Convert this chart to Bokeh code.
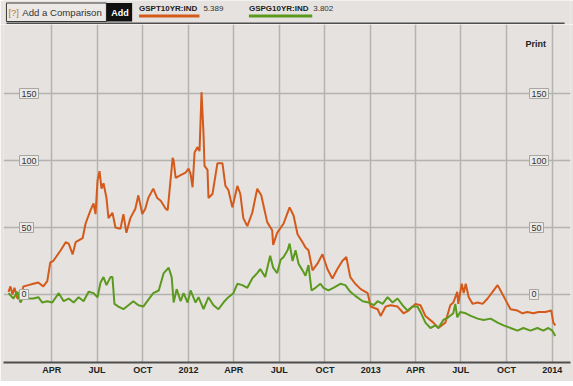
import pandas as pd
from bokeh.plotting import figure
from bokeh.layouts import column
from bokeh.models import Range1d, FixedTicker, Label, BoxAnnotation
from bokeh.embed import file_html
from bokeh.resources import INLINE

# ---------------- data ----------------
pt_dates = ["2011-01-04","2011-01-08","2011-01-12","2011-01-16","2011-01-22","2011-01-28","2011-02-03","2011-02-13","2011-02-23","2011-03-05",
            "2011-03-15","2011-03-23","2011-03-29","2011-04-04","2011-04-19","2011-04-29","2011-05-05","2011-05-13","2011-05-19","2011-06-02",
            "2011-06-08","2011-06-18","2011-06-24","2011-06-28","2011-07-02","2011-07-06","2011-07-10","2011-07-14","2011-07-20","2011-07-24",
            "2011-08-01","2011-08-07","2011-08-17","2011-08-23","2011-08-29","2011-09-06","2011-09-16","2011-09-22","2011-09-30","2011-10-06",
            "2011-10-12","2011-10-22","2011-10-30","2011-11-06","2011-11-16","2011-11-20","2011-11-30","2011-12-02","2011-12-06","2011-12-16",
            "2011-12-26","2012-01-01","2012-01-05","2012-01-09","2012-01-13","2012-01-19","2012-01-23","2012-01-27","2012-01-31","2012-02-02",
            "2012-02-08","2012-02-10","2012-02-18","2012-02-28","2012-03-09","2012-03-15","2012-03-21","2012-03-29","2012-04-08","2012-04-14",
            "2012-04-20","2012-04-28","2012-05-08","2012-05-18","2012-05-26","2012-06-07","2012-06-17","2012-06-19","2012-06-27","2012-07-10",
            "2012-07-14","2012-07-22","2012-07-30","2012-08-07","2012-08-17","2012-08-23","2012-08-29","2012-09-06","2012-09-16","2012-09-26",
            "2012-10-06","2012-10-16","2012-10-26","2012-11-05","2012-11-13","2012-11-21","2012-12-01","2012-12-12","2012-12-26","2013-01-01",
            "2013-01-15","2013-01-21","2013-01-31","2013-02-10","2013-02-24","2013-03-08","2013-03-18","2013-04-01","2013-04-11","2013-04-21",
            "2013-05-07","2013-05-17","2013-05-31","2013-06-10","2013-06-16","2013-06-24","2013-06-26","2013-07-03","2013-07-07","2013-07-11",
            "2013-07-17","2013-07-25","2013-08-04","2013-08-14","2013-08-24","2013-09-03","2013-09-13","2013-09-19","2013-09-29","2013-10-09",
            "2013-10-23","2013-11-02","2013-11-12","2013-11-24","2013-12-04","2013-12-18","2013-12-30","2014-01-03","2014-01-07"]
pt_values = [2, 6, 0, 5, -3, -2, 6, 7, 8, 9,
             6, 10, 24, 25, 33, 39, 38, 30, 39, 42,
             53, 63, 68, 60, 85, 92, 79, 83, 72, 57,
             61, 50, 49, 60, 46, 57, 64, 74, 60, 64,
             72, 79, 72, 70, 64, 63, 102, 100, 87, 89,
             91, 94, 90, 80, 106, 110, 107, 151, 120, 96,
             93, 72, 75, 98, 98, 81, 78, 65, 81, 75,
             57, 51, 61, 79, 74, 54, 48, 37, 46, 53,
             57, 65, 59, 45, 39, 35, 33, 18, 23, 30,
             19, 12, 19, 25, 28, 13, 8, 4, 1, -9,
             -11, -16, -9, -8, -9, -14, -12, -7, -8, -16,
             -21, -25, -21, -8, -6, 2, -7, 8, 1, 8,
             -2, -7, -6, -7, -3, 2, 7, 3, -4, -11,
             -12, -14, -13, -14, -13, -13, -12, -21, -23]

pg_dates = ["2011-01-04","2011-01-14","2011-01-22","2011-01-28","2011-02-03","2011-02-13","2011-02-23","2011-03-05","2011-03-13","2011-03-23",
            "2011-04-02","2011-04-15","2011-04-25","2011-05-05","2011-05-15","2011-05-25","2011-06-04","2011-06-14","2011-06-24","2011-07-02",
            "2011-07-08","2011-07-14","2011-07-20","2011-07-28","2011-08-01","2011-08-05","2011-08-13","2011-08-23","2011-09-02","2011-09-12",
            "2011-09-22","2011-10-02","2011-10-10","2011-10-22","2011-11-02","2011-11-12","2011-11-22","2011-11-28","2011-12-02","2011-12-08",
            "2011-12-16","2011-12-22","2011-12-30","2012-01-05","2012-01-15","2012-01-21","2012-01-31","2012-02-10","2012-02-20","2012-03-01",
            "2012-03-11","2012-03-21","2012-03-31","2012-04-08","2012-04-18","2012-04-28","2012-05-08","2012-05-18","2012-05-24","2012-06-03",
            "2012-06-13","2012-06-19","2012-06-27","2012-07-04","2012-07-10","2012-07-18","2012-07-22","2012-07-28","2012-08-03","2012-08-09",
            "2012-08-17","2012-08-23","2012-08-29","2012-09-04","2012-09-12","2012-09-22","2012-09-28","2012-10-08","2012-10-18","2012-11-01",
            "2012-11-11","2012-11-21","2012-12-01","2012-12-16","2012-12-28","2013-01-07","2013-01-15","2013-01-25","2013-02-04","2013-02-14",
            "2013-02-24","2013-03-06","2013-03-16","2013-03-26","2013-04-05","2013-04-11","2013-04-21","2013-05-01","2013-05-11","2013-05-17",
            "2013-05-27","2013-06-06","2013-06-16","2013-06-20","2013-06-24","2013-06-30","2013-07-11","2013-07-21","2013-08-04","2013-08-16",
            "2013-08-30","2013-09-13","2013-09-25","2013-10-09","2013-10-23","2013-11-04","2013-11-18","2013-12-02","2013-12-14","2013-12-24",
            "2014-01-01","2014-01-07"]
pg_values = [1, -3, 2, -6, -2, -3, -3, -2, -6, -5,
             -6, 1, -5, -3, -6, -2, -5, 2, 1, -2,
             9, 13, 7, 13, 13, -7, -9, -11, -8, -5,
             -8, -9, -5, 1, 3, 16, 20, 13, -6, 4,
             -5, 1, -6, 3, -6, -2, -11, -2, -8, -11,
             -6, -2, 1, 8, 7, 5, 12, 16, 19, 13,
             29, 20, 16, 26, 28, 33, 38, 25, 33, 23,
             18, 14, 22, 3, 5, 8, 5, 3, 5, 8,
             7, 2, -1, -5, -6, -8, -5, -7, -2, -6,
             -3, -8, -12, -9, -9, -13, -21, -25, -23, -25,
             -19, -17, -14, -7, -17, -13, -14, -16, -18, -19,
             -18, -21, -23, -25, -27, -25, -27, -25, -27, -25,
             -27, -31]

quarter_ticks = ["2011-04-01", "2011-07-01", "2011-10-01", "2012-01-01", "2012-04-01", "2012-07-01",
                 "2012-10-01", "2013-01-01", "2013-04-01", "2013-07-01", "2013-10-01", "2014-01-01"]
quarter_labels = ["APR", "JUL", "OCT", "2012", "APR", "JUL", "OCT", "2013", "APR", "JUL", "OCT", "2014"]
y_ticks = [0, 50, 100, 150]
series_names = ["GSPT10YR:IND", "GSPG10YR:IND"]
series_last = ["5.389", "3.802"]
series_colors = ["#d45a1c", "#5b9a1f"]

# ---------------- styling ----------------
BG = "#e5e2df"
GRID = "#b5b3b0"
DARK = "#4f4f4f"
FONT = "Liberation Sans"
W = 573


def plain_fig(h):
    f = figure(width=W, height=h, output_backend="svg", toolbar_location=None,
               x_range=Range1d(0, W), y_range=Range1d(h, 0),
               x_axis_location=None, y_axis_location=None,
               min_border=0, min_border_left=0, min_border_right=0,
               min_border_top=0, min_border_bottom=0,
               background_fill_color=BG, border_fill_color=BG, outline_line_color=None)
    f.xgrid.visible = False
    f.ygrid.visible = False
    return f


def box(f, l, r, t, b, fill, line=None):
    f.add_layout(BoxAnnotation(left=l, right=r, top=t, bottom=b, fill_color=fill,
                               fill_alpha=1, line_color=line, line_alpha=1 if line else 0))


def lab(f, x, y, text, size="10px", style="normal", color="#222222", align="left"):
    f.add_layout(Label(x=x, y=y, text=text, text_font=FONT, text_font_size=size,
                       text_font_style=style, text_color=color, text_align=align,
                       text_baseline="middle"))


# ---------------- header ----------------
head = plain_fig(24)
box(head, 3, 104, 2.5, 21, "#ebe8e5", "#3a3a3a")
box(head, 104, 130, 2.5, 21, "#111111")
lab(head, 5, 12, "[?]", "9.5px", "normal", "#c07a2c")
lab(head, 19, 12, "Add a Comparison", "9.6px", "normal", "#333333")
lab(head, 109, 12, "Add", "9px", "bold", "#ffffff")
lab(head, 137, 8, series_names[0], "8px", "bold", "#222222")
lab(head, 202, 8, series_last[0], "8px", "normal", "#333333")
box(head, 137, 198, 14, 17, series_colors[0])
lab(head, 248, 8, series_names[1], "8px", "bold", "#222222")
lab(head, 313, 8, series_last[1], "8px", "normal", "#333333")
box(head, 248, 312, 14, 17, series_colors[1])
box(head, 3, 567, 22, 24, DARK)

# ---------------- main chart ----------------
x_start = pd.Timestamp("2010-12-25")
x_end = pd.Timestamp("2014-02-06 14:00")

p = figure(width=W, height=357, x_axis_type="datetime", output_backend="svg",
           toolbar_location=None, x_range=Range1d(x_start, x_end),
           y_range=Range1d(-50.75, 201.5), y_axis_location=None,
           min_border_left=3, min_border_right=3, min_border_top=0, min_border_bottom=19,
           background_fill_color=BG, border_fill_color=BG, outline_line_color=None)
p.extra_x_ranges = {"px": Range1d(3, 570)}

tick_ms = [pd.Timestamp(d).value / 1e6 for d in quarter_ticks]
p.xaxis.ticker = FixedTicker(ticks=tick_ms)
p.xaxis.major_label_overrides = {t: lab_ for t, lab_ in zip(tick_ms, quarter_labels)}
p.xaxis.axis_line_color = DARK
p.xaxis.axis_line_width = 2
p.xaxis.major_tick_line_color = None
p.xaxis.minor_tick_line_color = None
p.xaxis.major_tick_out = 0
p.xaxis.major_tick_in = 0
p.xaxis.major_label_text_font = FONT
p.xaxis.major_label_text_font_size = "9px"
p.xaxis.major_label_text_font_style = "bold"
p.xaxis.major_label_text_color = "#222222"
p.xaxis.major_label_standoff = 2

p.xgrid.ticker = FixedTicker(ticks=tick_ms)
p.ygrid.ticker = FixedTicker(ticks=y_ticks)
for g in (p.xgrid, p.ygrid):
    g.grid_line_color = GRID
    g.grid_line_width = 1.5

p.line(pd.to_datetime(pt_dates), pt_values, line_color=series_colors[0], line_width=2)
p.line(pd.to_datetime(pg_dates), pg_values, line_color=series_colors[1], line_width=2)

for v in y_ticks:
    for xpos in (19, 529):
        p.add_layout(Label(x=xpos, y=v, x_range_name="px", text=str(v), text_font=FONT,
                           text_font_size="9px", text_color="#333333", text_align="left",
                           text_baseline="middle", background_fill_color="#eceae7",
                           border_line_color="#a8a6a3", padding=2))

p.add_layout(Label(x=525, y=187, x_range_name="px", text="Print", text_font=FONT,
                   text_font_size="9px", text_font_style="bold", text_color="#222222",
                   text_align="left", text_baseline="middle"))

# ---------------- footer rule ----------------
foot = plain_fig(5)
box(foot, 3, 570, 0, 2, DARK)

layout = column(head, p, foot, spacing=0)
open("out.html", "w").write(file_html(layout, INLINE))
